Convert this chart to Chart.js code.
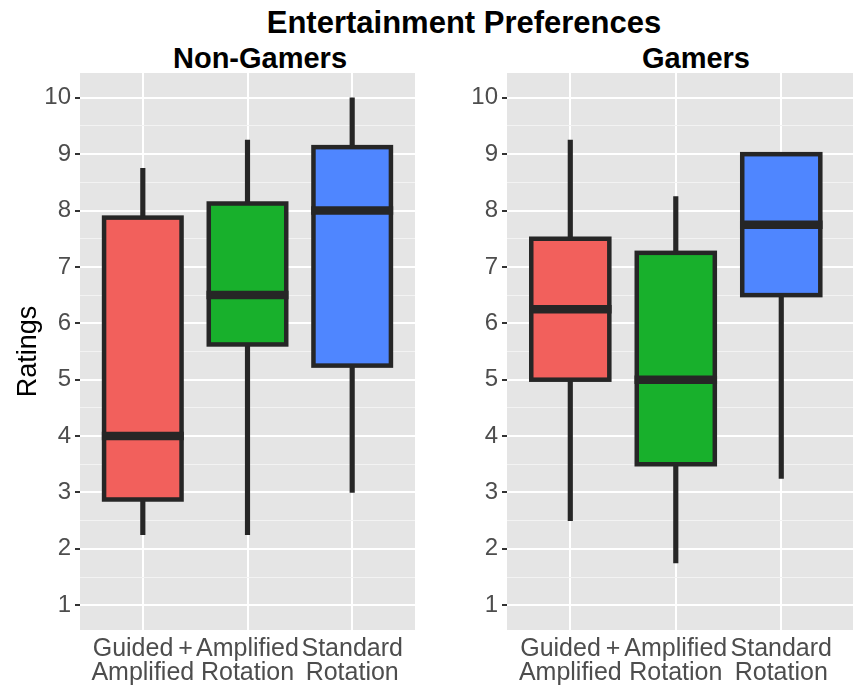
<!DOCTYPE html>
<html>
<head>
<meta charset="utf-8">
<script src="https://cdn.jsdelivr.net/npm/chart.js@4.4.1/dist/chart.umd.min.js"></script>
<style>
  html, body { margin: 0; padding: 0; background: #ffffff; }
  #wrap { position: relative; width: 859px; height: 689px; overflow: hidden; font-family: "Liberation Sans", Arial, sans-serif; }
  canvas { position: absolute; top: 0; }
  .head { position: absolute; font-weight: bold; font-size: 29px; line-height: 29px; color: #000; text-align: center; white-space: nowrap; }
</style>
</head>
<body>
<div id="wrap">
  <div class="head" id="mainTitle" style="left:214px; width:500px; top:7px; font-size:31px; line-height:31px;">Entertainment Preferences</div>
  <div class="head" id="leftTitle" style="left:160px; width:200px; top:44px;">Non-Gamers</div>
  <div class="head" id="rightTitle" style="left:596px; width:200px; top:44px;">Gamers</div>
  <canvas id="nonGamers" width="420" height="689" style="left:0px;"></canvas>
  <canvas id="gamers" width="429" height="689" style="left:430px;"></canvas>
</div>
<script>
// Conditions shown on the x axis (two-line labels)
const categories = [
  ['Guided\u2009+', 'Amplified'],
  ['Amplified', 'Rotation'],
  ['Standard', 'Rotation']
];

// Box statistics for the non-gamer group
const nonGamersMin    = [2.25, 2.25, 3];
const nonGamersQ1     = [2.875, 5.625, 5.25];
const nonGamersMedian = [4, 6.5, 8];
const nonGamersQ3     = [7.875, 8.125, 9.125];
const nonGamersMax    = [8.75, 9.25, 10];

// Box statistics for the gamer group
const gamersMin    = [2.5, 1.75, 3.25];
const gamersQ1     = [5, 3.5, 6.5];
const gamersMedian = [6.25, 5, 7.75];
const gamersQ3     = [7.5, 7.25, 9];
const gamersMax    = [9.25, 8.25, 9];

// Rating axis: labelled integers plus half-step minor lines
const yTickValues = [1, 1.5, 2, 2.5, 3, 3.5, 4, 4.5, 5, 5.5, 6, 6.5, 7, 7.5, 8, 8.5, 9, 9.5, 10];
const xTickValues = [1, 2, 3];

const boxColors = ['#F2605C', '#18B02C', '#4F86FF'];
const inkColor = '#262626';
const fontFamily = '"Liberation Sans", Arial, sans-serif';

// Grey panel behind the plotting area
const panelBackground = {
  id: 'panelBackground',
  beforeDraw(chart) {
    const { ctx, chartArea: a } = chart;
    ctx.save();
    ctx.fillStyle = '#E5E5E5';
    ctx.fillRect(a.left, a.top, a.right - a.left, a.bottom - a.top);
    ctx.restore();
  }
};

// Box outlines (centred on the box edges) and thick median bars
const boxOutline = {
  id: 'boxOutline',
  afterDatasetsDraw(chart) {
    const ctx = chart.ctx;
    const meta = chart.getDatasetMeta(0);
    const medians = chart.data.datasets[0].medians;
    const yScale = chart.scales.y;
    ctx.save();
    ctx.strokeStyle = inkColor;
    ctx.lineJoin = 'miter';
    meta.data.forEach((bar, i) => {
      const p = bar.getProps(['x', 'y', 'base', 'width'], true);
      const left = p.x - p.width / 2;
      const top = Math.min(p.y, p.base);
      const h = Math.abs(p.base - p.y);
      ctx.lineWidth = 4.5;
      ctx.strokeRect(left, top, p.width, h);
      const my = yScale.getPixelForValue(medians[i]);
      ctx.lineWidth = 8.5;
      ctx.lineCap = 'butt';
      ctx.beginPath();
      ctx.moveTo(left - 2.25, my);
      ctx.lineTo(left + p.width + 2.25, my);
      ctx.stroke();
    });
    ctx.restore();
  }
};

function makePanel(id, stats, layout) {
  const boxData = xTickValues.map((x, i) => ({ x, y: [stats.q1[i], stats.q3[i]] }));
  const whiskerData = xTickValues.map((x, i) => ({ x, y: [stats.min[i], stats.max[i]] }));
  return new Chart(document.getElementById(id), {
    type: 'bar',
    data: {
      datasets: [
        {
          data: boxData,
          medians: stats.median,
          backgroundColor: boxColors,
          borderWidth: 0,
          barPercentage: 0.74,
          categoryPercentage: 1,
          grouped: false
        },
        {
          data: whiskerData,
          backgroundColor: inkColor,
          borderWidth: 0,
          barThickness: 4.5,
          grouped: false
        }
      ]
    },
    options: {
      responsive: false,
      animation: false,
      devicePixelRatio: 1,
      layout: { padding: { top: 73, right: layout.padRight, left: 0, bottom: 0 } },
      plugins: { legend: { display: false }, tooltip: { enabled: false } },
      scales: {
        x: {
          type: 'linear',
          min: 0.4,
          max: layout.xMax,
          offset: false,
          afterBuildTicks(scale) { scale.ticks = xTickValues.map(v => ({ value: v })); },
          afterFit(scale) { scale.height = layout.xHeight; },
          border: { display: false },
          grid: { color: '#ffffff', lineWidth: 2, drawTicks: false, offset: false },
          ticks: {
            padding: 7,
            color: '#4D4D4D',
            font: { family: fontFamily, size: 25, lineHeight: 0.95 },
            maxRotation: 0,
            autoSkip: false,
            callback: v => categories[v - 1]
          }
        },
        y: {
          min: 0.56,
          max: 10.44,
          afterBuildTicks(scale) { scale.ticks = yTickValues.map(v => ({ value: v })); },
          afterFit(scale) { scale.width = layout.yWidth; },
          border: { display: false },
          title: {
            display: layout.showTitle,
            text: 'Ratings',
            color: '#000000',
            padding: { top: 12, bottom: 0 },
            font: { family: fontFamily, size: 27 }
          },
          grid: {
            color: c => Number.isInteger(c.tick.value) ? '#ffffff' : '#F3F3F3',
            lineWidth: c => Number.isInteger(c.tick.value) ? 2 : 1,
            tickColor: c => Number.isInteger(c.tick.value) ? '#333333' : 'rgba(0,0,0,0)',
            tickWidth: 2,
            tickLength: 5
          },
          ticks: {
            padding: 4,
            color: '#4D4D4D',
            font: { family: fontFamily, size: 24 },
            autoSkip: false,
            callback: v => Number.isInteger(v) ? String(v) : ''
          }
        }
      }
    },
    plugins: [panelBackground, boxOutline]
  });
}

makePanel('nonGamers', {
  min: nonGamersMin, q1: nonGamersQ1, median: nonGamersMedian, q3: nonGamersQ3, max: nonGamersMax
}, { yWidth: 80, xHeight: 59, padRight: 5, xMax: 3.6, showTitle: true });

makePanel('gamers', {
  min: gamersMin, q1: gamersQ1, median: gamersMedian, q3: gamersQ3, max: gamersMax
}, { yWidth: 77, xHeight: 59, padRight: 6, xMax: 3.68, showTitle: false });
</script>
</body>
</html>
